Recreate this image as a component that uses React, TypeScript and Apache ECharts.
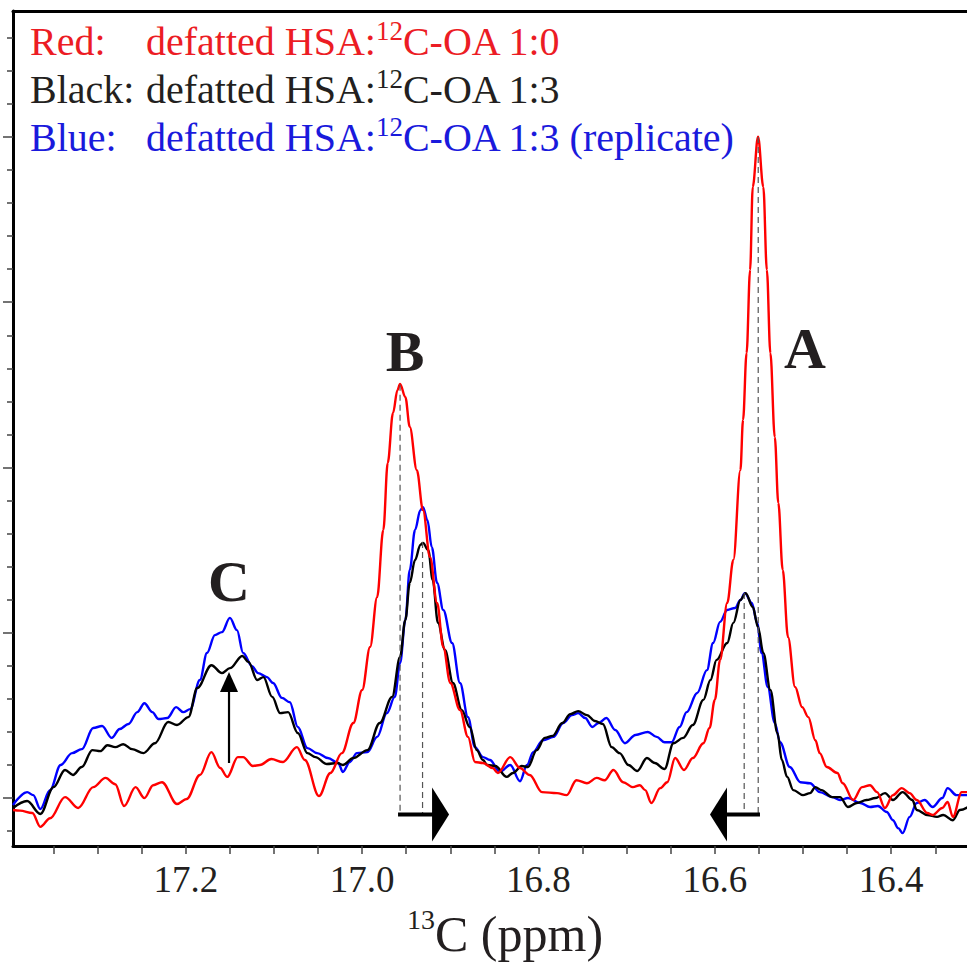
import React, { useEffect, useRef } from "react";
import * as echarts from "echarts";

// ---- data: [ppm, intensity (arbitrary units, 1 unit = one minor y tick)] ----
const RED: number[][] = [
  [17.396, -0.36], [17.388, -0.38], [17.374, -0.45], [17.365, -0.87], [17.354, -0.61], [17.337, 0.03],
  [17.322, -0.3], [17.305, 0.33], [17.291, 0.61], [17.28, 0.42], [17.27, -0.24], [17.257, 0.33],
  [17.247, 0.0], [17.237, 0.39], [17.227, 0.48], [17.21, -0.18], [17.199, -0.03], [17.184, 0.7],
  [17.171, 1.39], [17.161, 0.91], [17.153, 0.64], [17.141, 1.24], [17.135, 1.24], [17.124, 0.97],
  [17.116, 1.0], [17.103, 1.18], [17.09, 1.09], [17.074, 1.54], [17.065, 1.15], [17.049, 0.06],
  [17.036, 0.76], [17.023, 1.36], [17.01, 2.27], [17.0, 3.27], [16.991, 4.57], [16.983, 6.08],
  [16.976, 8.11], [16.971, 10.14], [16.965, 11.65], [16.96, 12.34], [16.957, 12.53], [16.951, 12.13],
  [16.946, 11.23], [16.938, 9.92], [16.931, 8.71], [16.923, 7.29], [16.915, 5.9], [16.908, 4.57],
  [16.9, 3.48], [16.889, 2.66], [16.88, 1.85], [16.872, 1.09], [16.863, 1.06], [16.852, 0.91],
  [16.846, 0.76], [16.832, 1.24], [16.821, 0.91], [16.81, 0.7], [16.796, 0.18], [16.779, 0.15],
  [16.768, 0.09], [16.757, 0.54], [16.745, 0.45], [16.734, 0.61], [16.725, 0.54], [16.715, 0.85],
  [16.704, 0.48], [16.693, 0.33], [16.685, 0.39], [16.679, 0.24], [16.672, -0.15], [16.662, 0.3],
  [16.654, 0.48], [16.645, 1.21], [16.635, 0.85], [16.625, 1.21], [16.613, 1.66], [16.606, 2.12],
  [16.6, 2.97], [16.594, 4.18], [16.586, 5.9], [16.579, 7.2], [16.571, 9.92], [16.568, 11.44],
  [16.564, 13.46], [16.56, 15.98], [16.557, 18.49], [16.551, 20.01], [16.545, 18.49], [16.541, 15.98],
  [16.537, 13.46], [16.532, 10.92], [16.528, 8.93], [16.523, 6.9], [16.517, 4.87], [16.509, 3.36],
  [16.501, 2.75], [16.494, 2.45], [16.486, 1.75], [16.481, 1.36], [16.473, 0.94], [16.461, 0.76],
  [16.455, 0.45], [16.443, -0.06], [16.433, 0.33], [16.424, 0.39], [16.416, 0.18], [16.407, -0.3],
  [16.398, 0.09], [16.388, 0.3], [16.379, 0.15], [16.371, -0.06], [16.359, -0.45], [16.353, -0.51],
  [16.342, -0.3], [16.336, -0.12], [16.33, -0.57], [16.32, 0.18], [16.311, 0.18],
];

const BLACK: number[][] = [
  [17.396, -0.3], [17.38, -0.09], [17.365, -0.48], [17.35, 0.33], [17.337, 0.85], [17.328, 0.7],
  [17.318, 0.94], [17.306, 1.45], [17.297, 1.42], [17.289, 1.6], [17.28, 1.54], [17.271, 1.63],
  [17.261, 1.48], [17.248, 1.36], [17.235, 1.66], [17.22, 2.3], [17.21, 2.21], [17.197, 2.45],
  [17.187, 3.33], [17.171, 4.02], [17.159, 3.78], [17.15, 3.93], [17.136, 4.3], [17.129, 4.12],
  [17.119, 3.57], [17.112, 3.66], [17.102, 3.06], [17.093, 2.57], [17.084, 2.6], [17.073, 1.97],
  [17.062, 1.36], [17.053, 1.24], [17.04, 1.03], [17.028, 1.06], [17.022, 1.0], [17.01, 1.21],
  [16.994, 1.45], [16.98, 2.27], [16.966, 3.06], [16.957, 4.27], [16.951, 5.39], [16.946, 6.51],
  [16.94, 7.2], [16.934, 7.66], [16.931, 7.72], [16.925, 7.5], [16.92, 6.6], [16.914, 5.3],
  [16.906, 4.48], [16.897, 3.48], [16.887, 2.66], [16.878, 2.15], [16.87, 1.45], [16.863, 1.15],
  [16.858, 1.0], [16.849, 0.97], [16.836, 0.64], [16.829, 0.76], [16.819, 0.97], [16.812, 0.94],
  [16.802, 1.45], [16.793, 1.82], [16.784, 1.88], [16.773, 2.27], [16.764, 2.54], [16.755, 2.63],
  [16.745, 2.51], [16.736, 2.33], [16.727, 2.24], [16.717, 1.54], [16.708, 1.36], [16.698, 1.0],
  [16.688, 0.82], [16.677, 1.21], [16.668, 1.06], [16.657, 0.88], [16.647, 1.66], [16.636, 1.82],
  [16.625, 2.21], [16.613, 2.97], [16.605, 3.57], [16.598, 4.18], [16.586, 4.69], [16.579, 5.3],
  [16.571, 5.99], [16.565, 6.2], [16.557, 5.78], [16.551, 5.17], [16.545, 4.39], [16.537, 3.27],
  [16.529, 1.97], [16.524, 1.15], [16.518, 0.64], [16.511, 0.24], [16.5, 0.09], [16.492, 0.15],
  [16.486, 0.33], [16.479, 0.24], [16.467, 0.03], [16.458, 0.03], [16.449, -0.27], [16.439, -0.15],
  [16.428, -0.06], [16.418, 0.0], [16.407, 0.15], [16.398, -0.06], [16.387, 0.18], [16.376, -0.06],
  [16.371, -0.36], [16.359, -0.51], [16.348, -0.57], [16.341, -0.51], [16.33, -0.67], [16.322, -0.36],
  [16.311, -0.24],
];

const BLUE: number[][] = [
  [17.396, -0.21], [17.38, 0.18], [17.373, 0.09], [17.365, -0.33], [17.354, 0.24], [17.342, 1.0],
  [17.329, 1.36], [17.318, 1.48], [17.305, 2.12], [17.295, 2.18], [17.284, 1.82], [17.275, 2.09],
  [17.265, 2.24], [17.255, 2.6], [17.247, 2.87], [17.238, 2.6], [17.231, 2.39], [17.221, 2.42],
  [17.211, 2.75], [17.203, 2.6], [17.195, 2.69], [17.184, 3.57], [17.176, 4.39], [17.167, 4.93],
  [17.159, 5.02], [17.15, 5.45], [17.142, 5.08], [17.135, 4.39], [17.125, 3.99], [17.118, 3.78],
  [17.108, 3.66], [17.101, 3.48], [17.091, 3.03], [17.082, 2.9], [17.073, 2.15], [17.062, 1.51],
  [17.051, 1.36], [17.039, 1.21], [17.027, 1.06], [17.022, 0.79], [17.014, 1.09], [17.006, 1.36],
  [16.994, 1.39], [16.983, 1.85], [16.972, 2.57], [16.963, 3.06], [16.957, 4.08], [16.951, 5.39],
  [16.946, 6.9], [16.94, 8.11], [16.934, 8.71], [16.931, 8.8], [16.926, 8.41], [16.921, 7.59],
  [16.915, 6.51], [16.908, 5.69], [16.898, 4.69], [16.889, 3.48], [16.88, 2.45], [16.872, 1.54],
  [16.863, 1.24], [16.855, 1.15], [16.844, 0.79], [16.832, 1.0], [16.821, 0.51], [16.813, 1.0],
  [16.806, 1.39], [16.795, 1.75], [16.783, 1.85], [16.772, 2.27], [16.762, 2.51], [16.755, 2.57],
  [16.747, 2.42], [16.739, 2.15], [16.732, 2.27], [16.723, 2.42], [16.713, 2.06], [16.702, 1.66],
  [16.69, 1.91], [16.676, 2.0], [16.666, 1.85], [16.657, 1.69], [16.649, 1.69], [16.64, 2.15],
  [16.632, 2.6], [16.62, 3.18], [16.609, 3.87], [16.602, 4.69], [16.594, 5.33], [16.586, 5.69],
  [16.577, 5.75], [16.571, 5.99], [16.566, 6.2], [16.558, 5.9], [16.552, 5.3], [16.547, 4.39],
  [16.54, 3.36], [16.532, 2.27], [16.526, 1.69], [16.515, 0.94], [16.503, 0.48], [16.492, 0.45],
  [16.481, 0.18], [16.467, 0.03], [16.458, -0.06], [16.449, 0.0], [16.435, -0.15], [16.424, -0.27],
  [16.415, -0.24], [16.405, -0.42], [16.398, -0.67], [16.392, -0.91], [16.387, -1.06], [16.379, -0.57],
  [16.371, -0.15], [16.362, -0.06], [16.353, -0.27], [16.342, 0.0], [16.336, 0.3], [16.326, 0.09],
  [16.311, 0.09],
];

// axis ticks / labels
const X_TICKS = [16.35, 16.4, 16.45, 16.5, 16.55, 16.6, 16.65, 16.7, 16.75, 16.8, 16.85, 16.9, 16.95,
  17.0, 17.05, 17.1, 17.15, 17.2, 17.25, 17.3, 17.35];
const X_LABELS = [16.4, 16.6, 16.8, 17.0, 17.2];
const Y_MAJOR = [0, 5, 10, 15, 20];
const Y_MINOR = [-1, 1, 2, 3, 4, 6, 7, 8, 9, 11, 12, 13, 14, 16, 17, 18, 19, 21, 22, 23];

// annotations: dashed peak markers [ppm, top, bottom]
const DASHES: number[][] = [
  [16.957, 12.5, -0.45],
  [16.9315, 7.75, -0.45],
  [16.5667, 6.2, -0.45],
  [16.5508, 20.0, -0.45],
];
// horizontal shift arrows [from ppm, tip ppm, intensity]
const SHIFT_ARROWS: number[][] = [
  [16.9593, 16.9014, -0.5],
  [16.5488, 16.6055, -0.5],
];
// vertical arrow at C [ppm, from, tip]
const UP_ARROW: number[][] = [[17.151, 1.06, 3.81]];

const SERIF = "Liberation Serif";
const TXT_RED = "#ec1c24";
const TXT_BLACK = "#231f20";
const TXT_BLUE = "#1a1adc";

function richSet(color: string) {
  return {
    l: { fontFamily: SERIF, fontSize: 40, lineHeight: 48, fill: color, color, width: 116 },
    m: { fontFamily: SERIF, fontSize: 40, lineHeight: 48, fill: color, color },
    s: { fontFamily: SERIF, fontSize: 27, lineHeight: 30, fill: color, color, verticalAlign: "top" },
  };
}

function buildOption(): any {
  const r = richSet(TXT_RED);
  const k = richSet(TXT_BLACK);
  const b = richSet(TXT_BLUE);
  const rich: any = {
    rl: r.l, rm: r.m, rs: r.s,
    kl: k.l, km: k.m, ks: k.s,
    bl: b.l, bm: b.m, bs: b.s,
    am: { fontFamily: SERIF, fontSize: 50, lineHeight: 56, fill: TXT_BLACK, color: TXT_BLACK },
    as: { fontFamily: SERIF, fontSize: 28, lineHeight: 36, fill: TXT_BLACK, color: TXT_BLACK, verticalAlign: "top" },
  };
  const xMin = 16.314;
  const xMax = 17.396;
  const yMin = -1.45;
  const yMax = 23.81;
  const lineSeries = (name: string, data: number[][], color: string) => ({
    type: "line",
    name,
    data,
    showSymbol: false,
    symbol: "none",
    smooth: 0.35,
    smoothMonotone: "x",
    lineStyle: { color, width: 2.4 },
    silent: true,
    z: 3,
  });
  const letter = (t: string, x: number, y: number) => ({
    type: "text",
    x,
    y,
    style: {
      text: t,
      fontFamily: SERIF,
      fontSize: 58,
      fontWeight: "bold",
      fill: TXT_BLACK,
      textAlign: "center",
      textVerticalAlign: "middle",
      align: "center",
      verticalAlign: "middle",
    },
  });
  return {
    animation: false,
    backgroundColor: "#ffffff",
    grid: { left: 13, right: 0, top: 11, bottom: 125 },
    xAxis: [
      {
        type: "value",
        min: xMin,
        max: xMax,
        inverse: true,
        position: "bottom",
        axisLine: { show: true, onZero: false, lineStyle: { color: "#000", width: 3 } },
        axisTick: { show: true, customValues: X_TICKS, length: 8, lineStyle: { color: "#444", width: 1.5 } },
        axisLabel: {
          show: true,
          customValues: X_LABELS,
          formatter: (v: number) => v.toFixed(1),
          fontFamily: SERIF,
          fontSize: 37,
          color: TXT_BLACK,
          margin: 15,
        },
        splitLine: { show: false },
      },
      {
        type: "value",
        min: xMin,
        max: xMax,
        inverse: true,
        position: "top",
        axisLine: { show: true, onZero: false, lineStyle: { color: "#000", width: 3 } },
        axisTick: { show: false },
        axisLabel: { show: false },
        splitLine: { show: false },
      },
    ],
    yAxis: [
      {
        type: "value",
        min: yMin,
        max: yMax,
        position: "left",
        offset: 0,
        axisLine: { show: true, onZero: false, lineStyle: { color: "#000", width: 3 } },
        axisTick: { show: true, customValues: Y_MAJOR, length: 10, lineStyle: { color: "#444", width: 1.5 } },
        axisLabel: { show: false },
        splitLine: { show: false },
      },
      {
        type: "value",
        min: yMin,
        max: yMax,
        position: "left",
        offset: 0,
        axisLine: { show: false, onZero: false },
        axisTick: { show: true, customValues: Y_MINOR, length: 6, lineStyle: { color: "#444", width: 1.5 } },
        axisLabel: { show: false },
        splitLine: { show: false },
      },
    ],
    series: [
      lineSeries("Blue", BLUE, "#0000ff"),
      lineSeries("Black", BLACK, "#000000"),
      lineSeries("Red", RED, "#ff0000"),
      {
        type: "custom",
        name: "dashes",
        data: DASHES,
        encode: { x: 0, y: [1, 2] },
        silent: true,
        z: 4,
        renderItem: (_p: any, api: any) => {
          const a = api.coord([api.value(0), api.value(1)]);
          const c = api.coord([api.value(0), api.value(2)]);
          return {
            type: "line",
            shape: { x1: a[0], y1: a[1], x2: c[0], y2: c[1] },
            style: { stroke: "#555555", lineWidth: 1.2, lineDash: [6, 4], fill: null },
          };
        },
      },
      {
        type: "custom",
        name: "shift arrows",
        data: SHIFT_ARROWS,
        encode: { x: [0, 1], y: 2 },
        silent: true,
        z: 5,
        renderItem: (_p: any, api: any) => {
          const a = api.coord([api.value(0), api.value(2)]);
          const t = api.coord([api.value(1), api.value(2)]);
          const dir = t[0] > a[0] ? 1 : -1;
          const bx = t[0] - dir * 17;
          return {
            type: "group",
            children: [
              {
                type: "line",
                shape: { x1: a[0], y1: a[1], x2: bx + dir * 2, y2: a[1] },
                style: { stroke: "#000", lineWidth: 4 },
              },
              {
                type: "polygon",
                shape: { points: [[bx, t[1] - 27], [t[0], t[1]], [bx, t[1] + 27]] },
                style: { fill: "#000" },
              },
            ],
          };
        },
      },
      {
        type: "custom",
        name: "up arrow",
        data: UP_ARROW,
        encode: { x: 0, y: [1, 2] },
        silent: true,
        z: 5,
        renderItem: (_p: any, api: any) => {
          const a = api.coord([api.value(0), api.value(1)]);
          const t = api.coord([api.value(0), api.value(2)]);
          const by = t[1] + 20;
          return {
            type: "group",
            children: [
              {
                type: "line",
                shape: { x1: a[0], y1: a[1], x2: a[0], y2: by - 1 },
                style: { stroke: "#000", lineWidth: 2.2 },
              },
              {
                type: "polygon",
                shape: { points: [[t[0] - 9, by], [t[0], t[1]], [t[0] + 9, by]] },
                style: { fill: "#000" },
              },
            ],
          };
        },
      },
    ],
    graphic: [
      {
        type: "text",
        x: 30,
        y: 17.7,
        style: {
          text:
            "{rl|Red:}{rm|defatted HSA:}{rs|12}{rm|C-OA 1:0}\n" +
            "{kl|Black:}{km|defatted HSA:}{ks|12}{km|C-OA 1:3}\n" +
            "{bl|Blue:}{bm|defatted HSA:}{bs|12}{bm|C-OA 1:3 (replicate)}",
          rich,
          textAlign: "left",
          textVerticalAlign: "top",
          align: "left",
          verticalAlign: "top",
        },
      },
      {
        type: "text",
        x: 505,
        y: 905.5,
        style: {
          text: "{as|13}{am|C (ppm)}",
          rich,
          fill: TXT_BLACK,
          textAlign: "center",
          textVerticalAlign: "top",
          align: "center",
          verticalAlign: "top",
        },
      },
      letter("A", 805, 348),
      letter("B", 405, 351),
      letter("C", 229, 581),
    ],
  };
}

export default function App() {
  const ref = useRef<HTMLDivElement>(null);
  useEffect(() => {
    if (!ref.current) return;
    const chart = echarts.init(ref.current, null, { renderer: "svg" });
    chart.setOption(buildOption());
    return () => {
      chart.dispose();
    };
  }, []);
  return (
    <div
      ref={ref}
      style={{ position: "absolute", left: 0, top: 0, width: 967, height: 971, background: "#fff" }}
    />
  );
}
